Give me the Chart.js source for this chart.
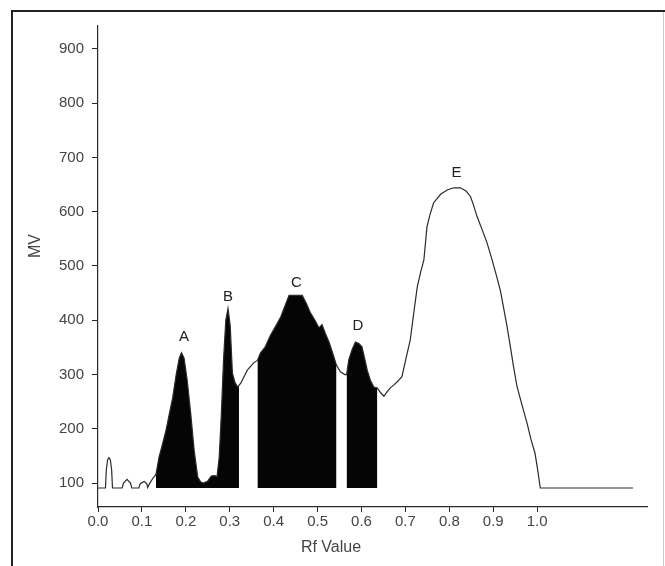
<!DOCTYPE html>
<html>
<head>
<meta charset="utf-8">
<script src="https://cdn.jsdelivr.net/npm/chart.js@4.4.1/dist/chart.umd.min.js"></script>
<style>
  html, body { margin: 0; padding: 0; background: #fff; }
  #wrap { width: 665px; height: 566px; position: relative; }
</style>
</head>
<body>
<div id="wrap"><canvas id="c" width="665" height="566"></canvas></div>
<script>
// ---- data ----
const BASELINE = 91;
const rfValues = [0.0, 0.017, 0.019, 0.022, 0.025, 0.028, 0.031, 0.033, 0.055, 0.058, 0.066, 0.074, 0.077,
  0.093, 0.096, 0.105, 0.111, 0.113, 0.118, 0.125, 0.132, 0.139, 0.147, 0.155, 0.163, 0.17, 0.178, 0.185,
  0.19, 0.196, 0.203, 0.211, 0.219, 0.227, 0.234, 0.241, 0.25, 0.258, 0.265, 0.271, 0.276, 0.281, 0.286,
  0.291, 0.296, 0.301, 0.306, 0.312, 0.318, 0.321, 0.325, 0.34, 0.355, 0.363, 0.37, 0.38, 0.393, 0.405,
  0.416, 0.425, 0.435, 0.45, 0.465, 0.475, 0.484, 0.494, 0.503, 0.51, 0.518, 0.526, 0.535, 0.543, 0.552,
  0.562, 0.566, 0.571, 0.578, 0.586, 0.594, 0.601, 0.607, 0.613, 0.62, 0.628, 0.636, 0.644, 0.651, 0.658,
  0.666, 0.674, 0.683, 0.692, 0.70, 0.711, 0.72, 0.727, 0.735, 0.742, 0.749, 0.756, 0.764, 0.78, 0.795,
  0.81, 0.825, 0.838, 0.848, 0.855, 0.863, 0.875, 0.886, 0.897, 0.908, 0.916, 0.923, 0.931, 0.939, 0.946,
  0.954, 0.965, 0.977, 0.986, 0.995, 1.001, 1.007, 1.218];
const mvValues = [91, 91, 125, 143, 147, 143, 125, 91, 91, 100, 107, 100, 91,
  91, 99, 103, 99, 92, 100, 109, 116, 148, 172, 198, 230, 257, 300, 330,
  340, 330, 290, 229, 160, 111, 102, 100, 104, 113, 114, 112, 148, 230, 330,
  400, 422, 390, 303, 285, 277, 280, 284, 308, 322, 326, 340, 350, 373, 390,
  406, 425, 446, 446, 446, 430, 413, 400, 386, 392, 375, 360, 338, 317, 305,
  300, 300, 327, 345, 360, 357, 351, 330, 308, 290, 277, 275, 266, 260, 268,
  276, 281, 288, 296, 325, 364, 420, 462, 490, 511, 572, 595, 616, 632, 640,
  644, 644, 638, 628, 612, 591, 566, 542, 512, 480, 455, 425, 390, 351, 315,
  278, 245, 210, 180, 155, 125, 91, 91];
// shaded peak regions (start Rf, end Rf)
const shadeStart = [0.132, 0.363, 0.566];
const shadeEnd = [0.321, 0.543, 0.636];
// peak labels
const peakLabels = ['A', 'B', 'C', 'D', 'E'];
const peakLabelRf = [0.196, 0.296, 0.452, 0.592, 0.816];
const peakLabelMV = [369, 443, 468, 389, 671];
// axis ticks
const xTicks = [0.0, 0.1, 0.2, 0.3, 0.4, 0.5, 0.6, 0.7, 0.8, 0.9, 1.0];
const yTicks = [100, 200, 300, 400, 500, 600, 700, 800, 900];

const curve = rfValues.map((x, i) => ({ x: x, y: mvValues[i] }));
const shadeSets = shadeStart.map((s, k) => ({
  data: curve.filter(p => p.x >= s - 1e-9 && p.x <= shadeEnd[k] + 1e-9),
  borderWidth: 0,
  borderColor: 'rgba(0,0,0,0)',
  backgroundColor: '#050505',
  fill: { value: BASELINE },
  pointRadius: 0,
  tension: 0,
  order: 2
}));

const FONT = '"Liberation Sans", Arial, Helvetica, sans-serif';
const INK = '#2a2a2a';
const TXT = '#444';

const decor = {
  id: 'decor',
  afterDraw(chart) {
    const ctx = chart.ctx;
    const xs = chart.scales.x, ys = chart.scales.y;
    ctx.save();
    // outer frame
    ctx.strokeStyle = '#222';
    ctx.lineWidth = 2;
    ctx.beginPath();
    ctx.moveTo(12, 566); ctx.lineTo(12, 11); ctx.lineTo(665, 11);
    ctx.stroke();
    ctx.strokeStyle = '#c8c8c8';
    ctx.lineWidth = 1;
    ctx.beginPath();
    ctx.moveTo(663.5, 12); ctx.lineTo(663.5, 566);
    ctx.stroke();
    // peak labels
    ctx.fillStyle = '#222';
    ctx.font = '15px ' + FONT;
    ctx.textAlign = 'center';
    ctx.textBaseline = 'middle';
    peakLabels.forEach((t, i) => {
      ctx.fillText(t, xs.getPixelForValue(peakLabelRf[i]), ys.getPixelForValue(peakLabelMV[i]));
    });
    // axis titles
    ctx.fillStyle = TXT;
    ctx.font = '16px ' + FONT;
    ctx.fillText('Rf Value', 331, 548);
    ctx.translate(36, 246);
    ctx.rotate(-Math.PI / 2);
    ctx.fillText('MV', 0, 0);
    ctx.restore();
  }
};

new Chart(document.getElementById('c'), {
  type: 'line',
  data: {
    datasets: [
      {
        data: curve,
        borderColor: INK,
        borderWidth: 1.2,
        backgroundColor: 'rgba(0,0,0,0)',
        fill: false,
        pointRadius: 0,
        tension: 0,
        order: 1
      },
      ...shadeSets
    ]
  },
  options: {
    responsive: false,
    animation: false,
    events: [],
    layout: { padding: { left: 0, top: 26, right: 18, bottom: 0 } },
    plugins: { legend: { display: false }, tooltip: { enabled: false } },
    scales: {
      x: {
        type: 'linear',
        min: 0,
        max: 1.25,
        afterBuildTicks: (s) => { s.ticks = xTicks.map(v => ({ value: v })); },
        afterFit: (s) => { s.height = 59; },
        border: { display: true, color: INK, width: 1.2 },
        grid: { display: true, drawOnChartArea: false, drawTicks: true, tickLength: 5, color: INK },
        ticks: {
          color: TXT,
          padding: 1,
          maxRotation: 0,
          autoSkip: false,
          font: { family: FONT, size: 15 },
          callback: (v) => Number(v).toFixed(1)
        }
      },
      y: {
        type: 'linear',
        min: 56,
        max: 942,
        afterBuildTicks: (s) => { s.ticks = yTicks.map(v => ({ value: v })); },
        afterFit: (s) => { s.width = 98; },
        border: { display: true, color: INK, width: 1.2 },
        grid: { display: true, drawOnChartArea: false, drawTicks: true, tickLength: 6, color: INK },
        ticks: {
          color: TXT,
          padding: 8,
          autoSkip: false,
          font: { family: FONT, size: 15 },
          callback: (v) => String(v)
        }
      }
    }
  },
  plugins: [decor]
});
</script>
</body>
</html>
